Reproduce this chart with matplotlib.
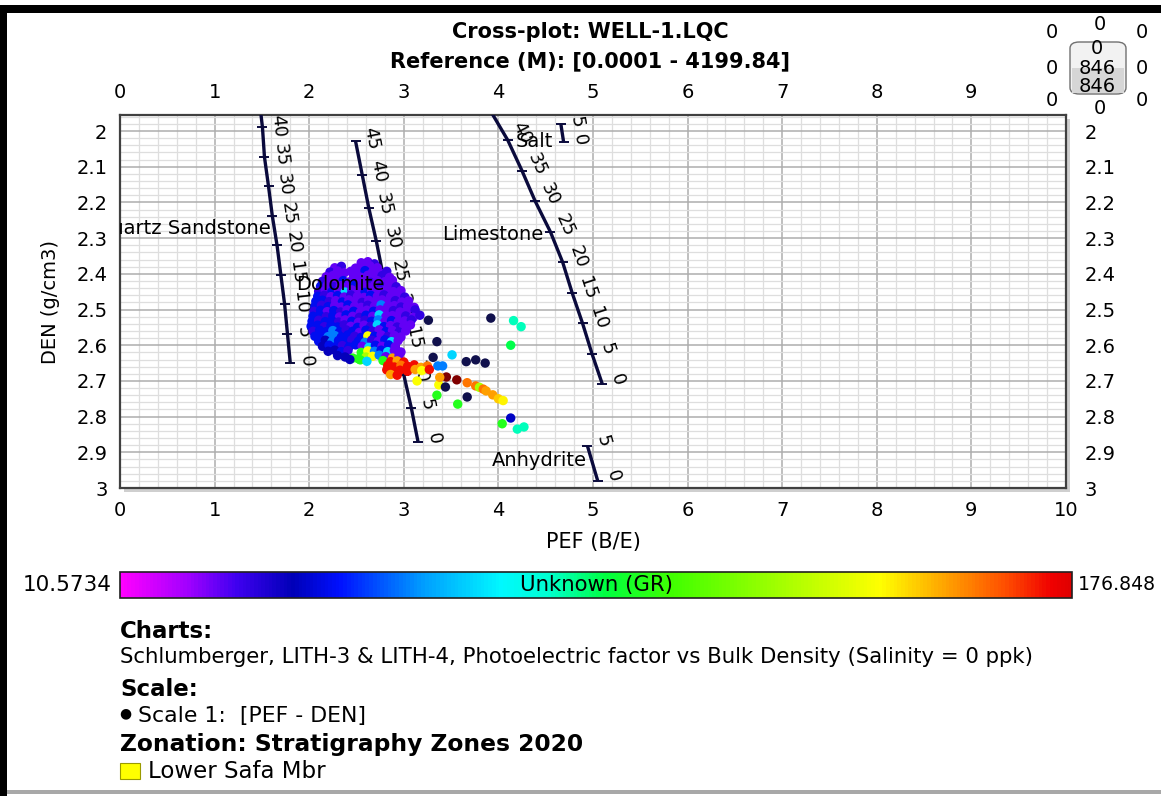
import numpy as np
import matplotlib
matplotlib.use('Agg')
import matplotlib.pyplot as plt
from matplotlib.colors import LinearSegmentedColormap
from matplotlib.patches import Rectangle, FancyBboxPatch

plt.rcParams['font.family'] = ['DejaVu Sans']

W, H = 1161, 796

# ---- GR-coloured PEF / DEN samples (Lower Safa Mbr) ----
cloud_pef = [
    2.55, 2.62, 2.69,
    2.27, 2.34, 2.49, 2.57, 2.64, 2.72,
    2.22, 2.30, 2.37, 2.44, 2.52, 2.59, 2.67, 2.75, 2.82,
    2.18, 2.25, 2.32, 2.47, 2.55, 2.62, 2.70, 2.77, 2.85,
    2.14, 2.21, 2.28, 2.36, 2.43, 2.50, 2.58, 2.65, 2.72, 2.80, 2.88,
    2.12, 2.19, 2.26, 2.33, 2.40, 2.47, 2.54, 2.62, 2.69, 2.76, 2.84, 2.92,
    2.10, 2.17, 2.24, 2.31, 2.38, 2.45, 2.52, 2.59, 2.66, 2.74, 2.81, 2.89, 2.97,
    2.09, 2.16, 2.23, 2.30, 2.37, 2.44, 2.51, 2.58, 2.65, 2.72, 2.79, 2.86, 2.94, 3.01,
    2.07, 2.14, 2.21, 2.28, 2.35, 2.42, 2.49, 2.56, 2.63, 2.70, 2.77, 2.84, 2.91, 2.98, 3.05,
    2.06, 2.13, 2.20, 2.27, 2.34, 2.41, 2.48, 2.55, 2.62, 2.69, 2.76, 2.83, 2.90, 2.97, 3.04, 3.11,
    2.05, 2.12, 2.19, 2.26, 2.33, 2.40, 2.47, 2.54, 2.61, 2.68, 2.75, 2.82, 2.89, 2.96, 3.03, 3.12,
    2.04, 2.11, 2.18, 2.25, 2.32, 2.39, 2.46, 2.53, 2.60, 2.67, 2.74, 2.81, 2.88, 2.95, 3.02, 3.10, 3.17,
    2.03, 2.10, 2.17, 2.24, 2.31, 2.38, 2.45, 2.52, 2.59, 2.66, 2.73, 2.80, 2.87, 2.94, 3.01, 3.08,
    2.02, 2.09, 2.16, 2.23, 2.30, 2.37, 2.44, 2.51, 2.58, 2.65, 2.72, 2.79, 2.86, 2.93, 3.00, 3.07,
    2.04, 2.11, 2.18, 2.25, 2.32, 2.39, 2.46, 2.53, 2.60, 2.67, 2.74, 2.81, 2.88, 2.95, 3.02,
    2.06, 2.13, 2.20, 2.27, 2.34, 2.41, 2.48, 2.55, 2.62, 2.69, 2.76, 2.83, 2.90, 2.97,
    2.10, 2.17, 2.24, 2.31, 2.38, 2.45, 2.52, 2.59, 2.66, 2.73, 2.80, 2.87, 2.94,
    2.14, 2.21, 2.28, 2.35, 2.42, 2.49, 2.56, 2.63, 2.70, 2.77, 2.84, 2.91,
    2.20, 2.27, 2.34, 2.41, 2.55, 2.62, 2.69, 2.76, 2.83, 2.90, 2.97,
    2.30, 2.38, 2.46, 2.52, 2.60, 2.67, 2.74, 2.81, 2.88, 2.95,
    2.43, 2.54, 2.61, 2.78, 2.86, 2.93, 3.00,
    2.83, 2.90, 2.97, 3.04, 3.11, 3.18, 3.25,
    2.82, 2.89, 2.96, 3.04, 3.12, 3.19,
    2.86, 2.93,
]
cloud_den = [
    2.369, 2.366, 2.372,
    2.383, 2.379, 2.384, 2.380, 2.377, 2.383,
    2.395, 2.392, 2.397, 2.393, 2.396, 2.391, 2.395, 2.398, 2.393,
    2.408, 2.405, 2.409, 2.406, 2.410, 2.404, 2.408, 2.405, 2.410,
    2.421, 2.418, 2.423, 2.419, 2.422, 2.417, 2.421, 2.424, 2.419, 2.422, 2.418,
    2.435, 2.432, 2.436, 2.433, 2.437, 2.431, 2.434, 2.437, 2.432, 2.435, 2.431, 2.436,
    2.449, 2.446, 2.450, 2.447, 2.451, 2.445, 2.449, 2.452, 2.446, 2.449, 2.445, 2.450, 2.447,
    2.463, 2.460, 2.464, 2.461, 2.465, 2.459, 2.463, 2.466, 2.460, 2.463, 2.459, 2.464, 2.461, 2.465,
    2.477, 2.474, 2.478, 2.475, 2.479, 2.473, 2.477, 2.480, 2.474, 2.477, 2.473, 2.478, 2.475, 2.479, 2.476,
    2.491, 2.488, 2.492, 2.489, 2.493, 2.487, 2.491, 2.494, 2.488, 2.491, 2.487, 2.492, 2.489, 2.493, 2.490, 2.494,
    2.505, 2.502, 2.506, 2.503, 2.507, 2.501, 2.505, 2.508, 2.502, 2.505, 2.501, 2.506, 2.503, 2.507, 2.504, 2.501,
    2.519, 2.516, 2.520, 2.517, 2.521, 2.515, 2.519, 2.522, 2.516, 2.519, 2.515, 2.520, 2.517, 2.521, 2.518, 2.522, 2.516,
    2.533, 2.530, 2.534, 2.531, 2.535, 2.529, 2.533, 2.536, 2.530, 2.533, 2.529, 2.534, 2.531, 2.535, 2.532, 2.529,
    2.547, 2.544, 2.548, 2.545, 2.549, 2.543, 2.547, 2.550, 2.544, 2.547, 2.543, 2.548, 2.545, 2.549, 2.546, 2.543,
    2.561, 2.558, 2.562, 2.559, 2.563, 2.557, 2.561, 2.564, 2.558, 2.561, 2.557, 2.562, 2.559, 2.563, 2.560,
    2.575, 2.572, 2.576, 2.573, 2.577, 2.571, 2.575, 2.578, 2.574, 2.575, 2.571, 2.576, 2.573, 2.577,
    2.589, 2.586, 2.590, 2.587, 2.591, 2.585, 2.589, 2.592, 2.586, 2.589, 2.585, 2.590, 2.587,
    2.603, 2.600, 2.604, 2.601, 2.605, 2.599, 2.603, 2.606, 2.600, 2.603, 2.599, 2.604,
    2.617, 2.614, 2.618, 2.615, 2.620, 2.616, 2.617, 2.614, 2.618, 2.615, 2.619,
    2.629, 2.633, 2.636, 2.638, 2.633, 2.631, 2.628, 2.632, 2.636, 2.629,
    2.640, 2.641, 2.645, 2.643, 2.646, 2.644, 2.647,
    2.657, 2.661, 2.656, 2.659, 2.655, 2.662, 2.658,
    2.669, 2.672, 2.670, 2.673, 2.668, 2.671,
    2.682, 2.684,
]
cloud_gr = [
    28, 28, 33,
    28, 33, 28, 28, 28, 28,
    33, 28, 28, 28, 28, 47, 28, 28, 33,
    28, 28, 28, 28, 28, 28, 28, 33, 28,
    33, 28, 28, 47, 28, 28, 28, 33, 28, 28, 28,
    47, 28, 33, 28, 28, 47, 28, 28, 28, 33, 28, 33,
    33, 28, 47, 28, 72, 28, 28, 47, 28, 28, 28, 28, 28,
    47, 33, 28, 47, 28, 33, 28, 28, 47, 28, 33, 28, 28, 33,
    47, 47, 33, 28, 47, 28, 28, 33, 28, 28, 28, 28, 33, 28, 28,
    47, 33, 47, 28, 28, 47, 28, 28, 33, 28, 60, 28, 28, 33, 28, 28,
    33, 47, 28, 47, 33, 28, 47, 28, 28, 47, 28, 28, 33, 28, 28, 33,
    47, 47, 33, 47, 28, 47, 28, 33, 47, 28, 72, 28, 28, 28, 33, 28, 33,
    47, 33, 47, 47, 33, 28, 47, 28, 33, 47, 60, 28, 47, 28, 28, 33,
    47, 47, 33, 47, 47, 33, 28, 47, 28, 33, 72, 47, 28, 33, 28, 28,
    33, 47, 47, 60, 47, 33, 47, 28, 47, 33, 28, 47, 28, 33, 28,
    47, 47, 60, 60, 47, 47, 33, 47, 143, 47, 28, 33, 28, 28,
    47, 40, 60, 47, 47, 33, 47, 60, 33, 28, 47, 72, 28,
    40, 47, 47, 33, 47, 47, 28, 72, 47, 28, 47, 28,
    40, 40, 47, 33, 102, 143, 60, 47, 72, 28, 28,
    40, 40, 102, 102, 127, 143, 60, 28, 155, 28,
    40, 102, 72, 102, 172, 155, 172,
    172, 172, 160, 172, 172, 155, 160,
    172, 172, 172, 172, 155, 143,
    155, 172,
]

# scattered points below and to the right of the main cloud
tail_pef = [3.26, 3.35, 3.31, 3.92, 4.16, 4.24, 4.13, 3.51, 3.66, 3.76, 3.86,
            3.36, 3.41, 3.45, 3.56, 3.37, 3.35, 3.44, 3.38, 3.14, 3.27,
            3.67, 3.76, 3.80, 3.84, 3.87, 3.94, 4.00, 4.05,
            3.67, 3.57, 4.13, 4.04, 4.20, 4.27]
tail_den = [2.530, 2.590, 2.634, 2.524, 2.531, 2.548, 2.600, 2.627, 2.646, 2.641, 2.650,
            2.658, 2.658, 2.689, 2.697, 2.711, 2.740, 2.717, 2.690, 2.700, 2.668,
            2.705, 2.714, 2.718, 2.723, 2.728, 2.739, 2.750, 2.755,
            2.745, 2.765, 2.804, 2.820, 2.835, 2.829]
tail_gr = [5, 5, 5, 5, 87, 87, 95, 72, 5, 5, 5,
           60, 60, 190, 190, 143, 102, 5, 155, 143, 172,
           160, 160, 127, 160, 155, 155, 150, 145,
           5, 102, 42, 102, 87, 87]

# ---- Schlumberger LITH-3/4 overlays (porosity, p.u.) ----
ss_phi = [45, 40, 35, 30, 25, 20, 15, 10, 5, 0]
ss_pef = [1.47, 1.506, 1.527, 1.57, 1.61, 1.66, 1.70, 1.74, 1.77, 1.80]
ss_den = [1.9075, 1.99, 2.0725, 2.155, 2.2375, 2.32, 2.4025, 2.485, 2.5675, 2.65]

dol_phi = [45, 40, 35, 30, 25, 20, 15, 10, 5, 0]
dol_pef = [2.49, 2.56, 2.63, 2.71, 2.78, 2.85, 2.93, 3.00, 3.08, 3.15]
dol_den = [2.0285, 2.122, 2.2155, 2.309, 2.4025, 2.496, 2.5895, 2.683, 2.7765, 2.87]

ls_phi = [45, 40, 35, 30, 25, 20, 15, 10, 5, 0]
ls_pef = [3.91, 4.10, 4.25, 4.39, 4.55, 4.68, 4.78, 4.89, 4.99, 5.10]
ls_den = [1.9405, 2.026, 2.1115, 2.197, 2.2825, 2.368, 2.4535, 2.539, 2.6245, 2.71]

salt_phi = [5, 0]
salt_pef = [4.66, 4.69]
salt_den = [1.98, 2.032]

anh_phi = [5, 0]
anh_pef = [4.94, 5.05]
anh_den = [2.881, 2.98]

gr_min, gr_max = 10.5734, 176.848

cmap = LinearSegmentedColormap.from_list('gr', [
    (0.00, '#ff00ff'), (0.07, '#a000ff'), (0.12, '#4000f0'), (0.18, '#0000b8'),
    (0.23, '#0010ff'), (0.32, '#00a0ff'), (0.40, '#00f8ff'), (0.45, '#00ffd0'),
    (0.51, '#00ff40'), (0.58, '#40ff00'), (0.80, '#ffff00'), (0.87, '#ffa000'),
    (0.93, '#ff5000'), (0.98, '#f00000'), (1.00, '#e00000')])
cmap.set_under('#10104c')
cmap.set_over('#800000')

LINE = '#0a0a3c'


def fx(x):
    return x / W


def fy(y):
    return 1 - y / H


fig = plt.figure(figsize=(W / 100, H / 100), dpi=100)
fig.patch.set_facecolor('white')

# outer frame of the report window
fig.add_artist(Rectangle((fx(4), fy(13)), fx(W - 4), fy(5) - fy(13), transform=fig.transFigure,
                         facecolor='black', edgecolor='none', zorder=-5))
fig.add_artist(Rectangle((0, 0), fx(7), fy(5), transform=fig.transFigure,
                         facecolor='black', edgecolor='none', zorder=-5))
fig.add_artist(Rectangle((fx(7), fy(794)), fx(W), fy(790) - fy(794), transform=fig.transFigure,
                         facecolor='#a8a8a8', edgecolor='none', zorder=-5))

# plot area
x0, x1, y0, y1 = 120, 1066, 115, 488
ax = fig.add_axes([fx(x0), fy(y1), fx(x1 - x0), fy(y0) - fy(y1)])
fig.add_artist(Rectangle((fx(x0 + 4), fy(y1 + 4)), fx(x1 - x0), fy(y0) - fy(y1),
                         transform=fig.transFigure, facecolor='#cfcfcf',
                         edgecolor='none', zorder=-1))
ax.set_xlim(0, 10)
ax.set_ylim(3.0, 1.955)
ax.set_xticks(np.arange(0, 11, 1))
ax.set_yticks(np.round(np.arange(2.0, 3.01, 0.1), 1))
ax.set_yticklabels(['2', '2.1', '2.2', '2.3', '2.4', '2.5', '2.6', '2.7', '2.8', '2.9', '3'])
ax.set_xticks(np.arange(0, 10.01, 0.2), minor=True)
ax.set_yticks(np.arange(1.96, 3.0, 0.02), minor=True)
ax.grid(which='minor', color='#dedede', lw=0.9)
ax.grid(which='major', color='#adadad', lw=1.1)
ax.set_axisbelow(True)
ax.tick_params(which='both', length=0, labelsize=14, labeltop=True, labelright=True)
ax.tick_params(axis='y', which='major', pad=9)
ax.tick_params(axis='x', which='major', pad=9)
for t in ax.yaxis.get_major_ticks():
    t.set_pad(9)
    t.label2.set_x(1.006)
ax.xaxis.get_major_ticks()[-1].label2.set_visible(False)
for s in ax.spines.values():
    s.set_color('#404040')
    s.set_linewidth(1.6)
ax.set_xlabel('PEF (B/E)', fontsize=15, labelpad=9)
ax.set_ylabel('DEN (g/cm3)', fontsize=14, labelpad=12)


# lithology lines with porosity labels
def draw_litho(pef, den, phi):
    ax.plot(pef, den, color=LINE, lw=2.4, zorder=3, solid_capstyle='butt')
    ax.plot(pef, den, ls='none', marker='_', ms=7, mew=1.4, color=LINE, zorder=3)
    pts = ax.transData.transform(np.column_stack([pef, den]))
    for i, p in enumerate(phi):
        if den[i] < 1.965:
            continue
        j0, j1 = max(i - 1, 0), min(i + 1, len(phi) - 1)
        d = pts[j1] - pts[j0]
        ang = np.degrees(np.arctan2(d[1], d[0]))
        a = np.radians(ang)
        off = 11.5
        ax.annotate(str(p), (pef[i], den[i]),
                    xytext=(-np.sin(a) * off, np.cos(a) * off), textcoords='offset points',
                    rotation=ang, rotation_mode='anchor', ha='center', va='center',
                    fontsize=13, color='black', zorder=4, annotation_clip=True)


draw_litho(ss_pef, ss_den, ss_phi)
draw_litho(dol_pef, dol_den, dol_phi)
draw_litho(ls_pef, ls_den, ls_phi)
draw_litho(salt_pef, salt_den, salt_phi)
draw_litho(anh_pef, anh_den, anh_phi)

sc = ax.scatter(cloud_pef, cloud_den, c=cloud_gr, cmap=cmap, vmin=gr_min, vmax=gr_max,
                s=46, linewidths=0, zorder=5)
ax.scatter(tail_pef, tail_den, c=tail_gr, cmap=cmap, vmin=gr_min, vmax=gr_max,
           s=46, linewidths=0, zorder=5)

lab_kw = dict(fontsize=14, color='black', zorder=6, clip_on=True)
ax.text(1.59, 2.272, 'Quartz Sandstone', ha='right', va='center', **lab_kw)
ax.text(2.33, 2.431, 'Dolomite', ha='center', va='center', **lab_kw)
ax.text(4.48, 2.291, 'Limestone', ha='right', va='center', **lab_kw)
ax.text(4.38, 2.030, 'Salt', ha='center', va='center', **lab_kw)
ax.text(4.43, 2.924, 'Anhydrite', ha='center', va='center', **lab_kw)

# titles
fig.text(fx(590), fy(32), 'Cross-plot: WELL-1.LQC', ha='center', va='center',
         fontsize=15, fontweight='bold')
fig.text(fx(590), fy(61), 'Reference (M): [0.0001 - 4199.84]', ha='center', va='center',
         fontsize=15, fontweight='bold')

# zoom widget in the corner
fig.add_artist(FancyBboxPatch((fx(1070), fy(94)), fx(56), fy(42) - fy(94),
                              boxstyle='round,pad=0,rounding_size=0.008',
                              transform=fig.transFigure, facecolor='#f2f2f2',
                              edgecolor='#707070', lw=1.0, zorder=2))
fig.add_artist(Rectangle((fx(1072), fy(93)), fx(52), fy(68) - fy(93),
                         transform=fig.transFigure, facecolor='#d6d6d6',
                         edgecolor='none', zorder=2))
for (px, py, t) in [(1052, 33, '0'), (1100, 25, '0'), (1142, 33, '0'),
                    (1052, 68, '0'), (1142, 68, '0'), (1052, 100, '0'),
                    (1142, 100, '0'), (1100, 108, '0'),
                    (1097, 48, '0'), (1097, 68, '846'), (1097, 86, '846')]:
    fig.text(fx(px), fy(py), t, ha='center', va='center', fontsize=14, zorder=3)

# colour bar
cax = fig.add_axes([fx(120), fy(598), fx(952), fy(572) - fy(598)])
cb = fig.colorbar(sc, cax=cax, orientation='horizontal')
cb.set_ticks([])
cb.outline.set_edgecolor('#202020')
cb.outline.set_linewidth(1.2)
cax.text(0.5, 0.5, 'Unknown (GR)', transform=cax.transAxes, ha='center', va='center',
         fontsize=15.3)
fig.text(fx(112), fy(585), '10.5734', ha='right', va='center', fontsize=15.5)
fig.text(fx(1078), fy(585), '176.848', ha='left', va='center', fontsize=13.6)

# chart notes
fig.text(fx(120), fy(631), 'Charts:', ha='left', va='center', fontsize=16.5, fontweight='bold')
fig.text(fx(120), fy(657),
         'Schlumberger, LITH-3 & LITH-4, Photoelectric factor vs Bulk Density (Salinity = 0 ppk)',
         ha='left', va='center', fontsize=15.3)
fig.text(fx(120), fy(690), 'Scale:', ha='left', va='center', fontsize=16.5, fontweight='bold')
fig.text(fx(119), fy(713), '\u25cf', ha='left', va='center', fontsize=10)
fig.text(fx(138), fy(716), 'Scale 1:  [PEF - DEN]', ha='left', va='center', fontsize=15.8)
fig.text(fx(120), fy(745), 'Zonation: Stratigraphy Zones 2020', ha='left', va='center',
         fontsize=16.8, fontweight='bold')
fig.add_artist(Rectangle((fx(120), fy(779)), fx(20), fy(763) - fy(779),
                         transform=fig.transFigure, facecolor='#ffff00',
                         edgecolor='#9a9a00', lw=0.8))
fig.text(fx(148), fy(771), 'Lower Safa Mbr', ha='left', va='center', fontsize=16.5)

fig.savefig('out.png', dpi=100)
